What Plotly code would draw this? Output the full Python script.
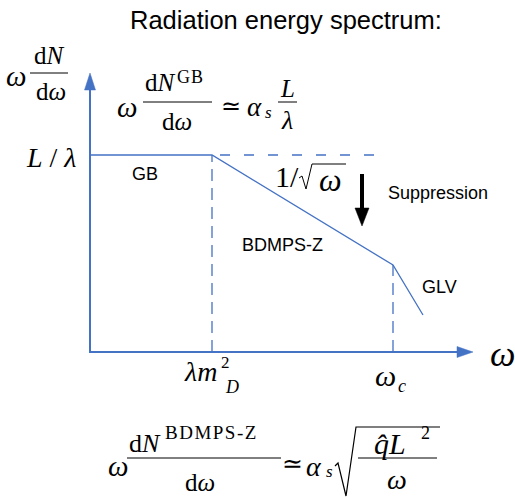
import plotly.graph_objects as go

# Schematic radiation spectrum: x is ω, y is ω dN/dω (drawing units, origin at the axes corner)
omega_knots = [0, 122, 303, 333]        # start, λm_D², ω_c, end of GLV tail
spectrum_knots = [197, 197, 87, 37]     # GB plateau, BDMPS-Z 1/√ω fall, steeper GLV fall
plateau_dash_end = 298                  # GB plateau extrapolated beyond λm_D²
regime_labels = ["GB", "BDMPS-Z", "GLV"]

BLUE = "#4472C4"
SERIF = "Liberation Serif"
SANS = "Liberation Sans"
W, H = 515, 497
OX, OY = 90, 352  # page position of the axes corner


def X(px):
    return px - OX


def Y(py):
    return OY - py


fig = go.Figure()

# spectrum
fig.add_trace(go.Scatter(x=omega_knots, y=spectrum_knots, mode="lines",
                         line=dict(color=BLUE, width=1.3), hoverinfo="skip"))
# plateau extrapolation
fig.add_trace(go.Scatter(x=[omega_knots[1], plateau_dash_end],
                         y=[spectrum_knots[1], spectrum_knots[1]], mode="lines",
                         line=dict(color=BLUE, width=1.3, dash="0px,8px,10px,6px"), hoverinfo="skip"))
# drop lines at λm_D² and ω_c
fig.add_trace(go.Scatter(x=[omega_knots[1], omega_knots[1], None, omega_knots[2], omega_knots[2]],
                         y=[0, spectrum_knots[1], None, 0, spectrum_knots[2]], mode="lines",
                         line=dict(color=BLUE, width=1.3, dash="12px,7px"), hoverinfo="skip"))

shapes = []
# axes with arrowheads
shapes.append(dict(type="line", x0=0, y0=0, x1=0, y1=Y(88), line=dict(color=BLUE, width=2)))
shapes.append(dict(type="line", x0=-1, y0=0, x1=X(460), y1=0, line=dict(color=BLUE, width=2)))
shapes.append(dict(type="path", path=f"M{X(90)},{Y(73)} L{X(84.5)},{Y(90)} L{X(95.5)},{Y(90)} Z",
                   fillcolor=BLUE, line=dict(color=BLUE, width=0.5)))
shapes.append(dict(type="path", path=f"M{X(473)},{Y(352)} L{X(457)},{Y(346.5)} L{X(457)},{Y(357.5)} Z",
                   fillcolor=BLUE, line=dict(color=BLUE, width=0.5)))
# suppression arrow
shapes.append(dict(type="line", x0=X(362), y0=Y(174), x1=X(362), y1=Y(210), line=dict(color="black", width=4)))
shapes.append(dict(type="path", path=f"M{X(355)},{Y(208)} L{X(369)},{Y(208)} L{X(362)},{Y(226)} Z",
                   fillcolor="black", line=dict(color="black", width=0.5)))


def bar(px0, px1, py, w=1):
    shapes.append(dict(type="line", x0=X(px0), y0=Y(py), x1=X(px1), y1=Y(py),
                       line=dict(color="black", width=w)))


def radical(pts, w=1.2):
    path = "M" + " L".join(f"{X(a)},{Y(b)}" for a, b in pts)
    shapes.append(dict(type="path", path=path, line=dict(color="black", width=w)))


ann = []


def txt(s, px, py, size, family=SERIF, xa="center", ya="middle"):
    ann.append(dict(x=X(px), y=Y(py), text=s, showarrow=False, xanchor=xa, yanchor=ya,
                    font=dict(family=family, size=size, color="black")))


def wide(s, sp):
    return f"<span style='letter-spacing:{sp}px'>{s}</span>"


# title
txt("Radiation energy spectrum:", 286, 20, 25.5, SANS)

# y-axis label  ω dN/dω
txt("<i>ω</i>", 16, 76, 29)
txt("d<i>N</i>", 49, 55, 25)
bar(30, 68, 73)
txt("d<i>ω</i>", 51, 91, 25)

# GB formula
txt("<i>ω</i>", 127, 107, 29)
txt("d<i>N</i>", 160, 82, 25)
txt(wide("GB", 1), 175, 77, 18, xa="left")
bar(143, 212, 102)
txt("d<i>ω</i>", 177, 121, 25)
txt("≃", 231, 106, 24)
txt("<i>α</i>", 254, 107, 27)
txt("<i>s</i>", 268, 112, 17)
txt("<i>L</i>", 287, 88, 25)
bar(278, 297, 102)
txt("<i>λ</i>", 287, 120, 26)

# plateau level
txt("<i>L</i> / <i>λ</i>", 51, 157, 28)

# 1/√ω
txt("1/", 273, 176, 30, xa="left")
radical([(299, 178), (302, 176), (306, 189), (312, 164), (346, 164)], 1)
txt("<i>ω</i>", 330, 180, 32)

# regime labels
txt(regime_labels[0], 145, 174, 18, SANS)
txt(regime_labels[1], 282, 245, 18, SANS)
txt(regime_labels[2], 439, 287, 18, SANS)
txt("Suppression", 438, 193, 18, SANS)

# x-axis marks
txt("<i>λm</i>", 200, 371, 28)
txt("2", 225, 362, 17)
txt("<i>D</i>", 232, 387, 18)
txt("<i>ω</i>", 385, 375, 30)
txt("<i>c</i>", 402, 386, 18)
txt("<i>ω</i>", 502, 354, 36)

# BDMPS-Z formula
txt("<i>ω</i>", 118, 466, 29)
txt("d<i>N</i>", 145, 443, 26)
txt(wide("BDMPS-Z", 1.5), 163, 432, 19, xa="left")
bar(127, 281, 458)
txt("d<i>ω</i>", 200, 482, 25)
txt("≃", 292, 463, 25)
txt("<i>α</i>", 314, 466, 28)
txt("<i>s</i>", 329, 471, 17)
radical([(335, 466), (338, 463), (346, 496), (356, 427), (440, 427)], 1.2)
txt("<i>q̂L</i>", 390, 443, 30)
txt("2", 425, 433, 18)
bar(358, 437, 458)
txt("<i>ω</i>", 397, 479, 28)

fig.update_layout(
    width=W, height=H, margin=dict(l=0, r=0, t=0, b=0),
    paper_bgcolor="white", plot_bgcolor="white", showlegend=False,
    xaxis=dict(range=[X(0), X(W)], visible=False, fixedrange=True),
    yaxis=dict(range=[Y(H), Y(0)], visible=False, fixedrange=True),
    shapes=shapes, annotations=ann,
)

fig.write_html("out.html")
